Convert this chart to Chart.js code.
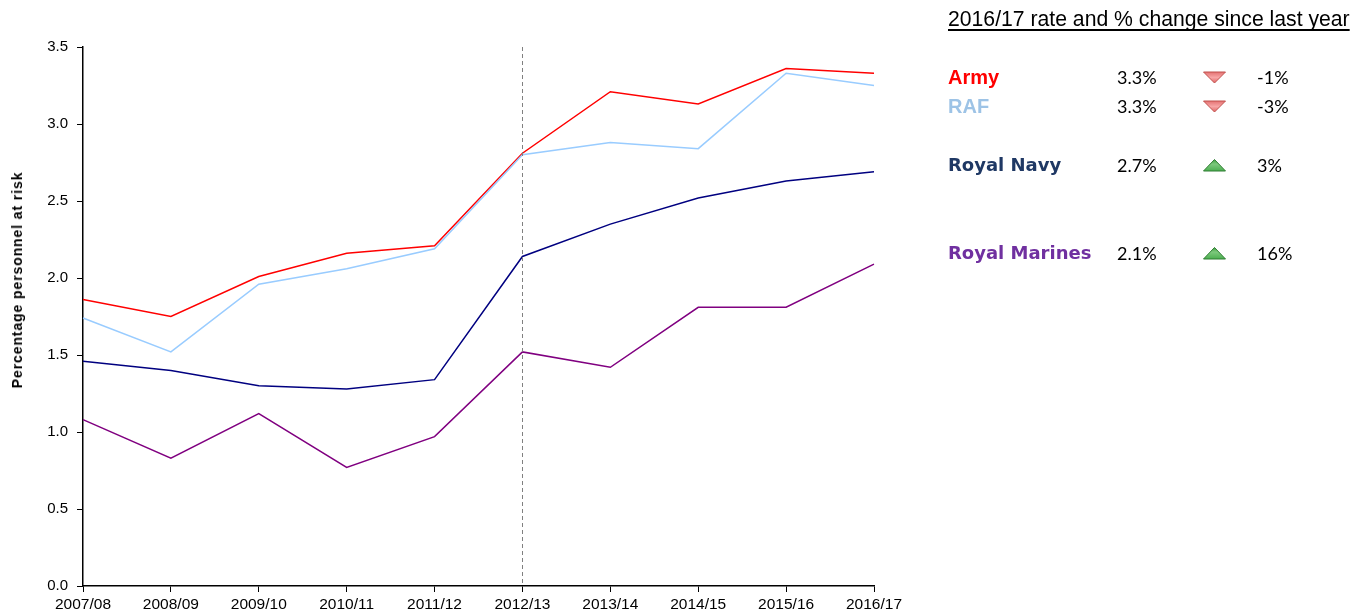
<!DOCTYPE html>
<html>
<head>
<meta charset="utf-8">
<script src="https://cdn.jsdelivr.net/npm/chart.js@4"></script>
<style>
  body { margin: 0; background: #fff; }
  #wrap { position: relative; width: 1368px; height: 616px; }
  #ytitle { position: absolute; left: 17px; top: 280px; transform: translate(-50%, -50%) rotate(-90deg);
            white-space: nowrap; font-family: "Liberation Sans", Arial, sans-serif; font-size: 14px;
            font-weight: bold; letter-spacing: 0.9px; color: #000; }
  #legend { position: absolute; left: 948px; top: 0; font-family: "Lato", "Liberation Sans", sans-serif; }
  #legend .title { position: absolute; left: 0; top: 7px; white-space: nowrap; font-family: "Liberation Sans", Arial, sans-serif; font-size: 21.2px; text-decoration: underline; text-decoration-skip-ink: none; text-underline-offset: 3px; color: #000; }
  #legend .row { position: absolute; left: 0; white-space: nowrap; font-size: 18px; color: #000; height: 24px; }
  #legend .name { position: absolute; left: 0; top: 0; line-height: 24px; font-weight: bold; }
  #legend .rate { position: absolute; left: 169px; top: 0; line-height: 24px; }
  #legend .tri { position: absolute; left: 255px; top: 6px; }
  #legend .tri svg { display: block; }
  #legend .chg { position: absolute; left: 309px; top: 0; line-height: 24px; }
</style>
</head>
<body>
<div id="wrap">
  <canvas id="chart" width="1368" height="616"></canvas>
  <div id="ytitle">Percentage personnel at risk</div>
  <div id="legend"></div>
</div>
<script>
// years on the x axis
const years = ["2007/08", "2008/09", "2009/10", "2010/11", "2011/12", "2012/13", "2013/14", "2014/15", "2015/16", "2016/17"];

// percentage personnel at risk
const army = [1.86, 1.75, 2.01, 2.16, 2.21, 2.81, 3.21, 3.13, 3.36, 3.33];
const raf = [1.74, 1.52, 1.96, 2.06, 2.19, 2.80, 2.88, 2.84, 3.33, 3.25];
const navy = [1.46, 1.40, 1.30, 1.28, 1.34, 2.14, 2.35, 2.52, 2.63, 2.69];
const marines = [1.08, 0.83, 1.12, 0.77, 0.97, 1.52, 1.42, 1.81, 1.81, 2.09];

const markerYear = "2012/13";

// side table
const services = ["Army", "RAF", "Royal Navy", "Royal Marines"];
const rates = ["3.3%", "3.3%", "2.7%", "2.1%"];
const changes = ["-1%", "-3%", "3%", "16%"];
const rowTops = [65, 94, 153, 241];
const textColours = ["#ff0000", "#9dc3e6", "#1f3864", "#7030a0"];
const nameFonts = ["bold 20px 'Liberation Sans'", "bold 20px 'Liberation Sans'", "bold 18px 'DejaVu Sans'", "bold 18px 'DejaVu Sans'"];

// dashed line at the marker year
const markerLine = {
  id: "markerLine",
  afterDatasetsDraw(chart) {
    const { ctx, scales: { x, y } } = chart;
    const px = Math.round(x.getPixelForValue(years.indexOf(markerYear))) + 0.5;
    ctx.save();
    ctx.strokeStyle = "#808080";
    ctx.lineWidth = 1;
    ctx.setLineDash([4, 3]);
    ctx.beginPath();
    ctx.moveTo(px, y.getPixelForValue(3.5));
    ctx.lineTo(px, y.getPixelForValue(0));
    ctx.stroke();
    ctx.restore();
  }
};

const lineSet = (label, data, colour) => ({
  label, data,
  borderColor: colour,
  borderWidth: 1.5,
  pointRadius: 0,
  tension: 0,
  fill: false
});

new Chart(document.getElementById("chart"), {
  type: "line",
  data: {
    labels: years,
    datasets: [
      lineSet("Royal Marines", marines, "#800080"),
      lineSet("Royal Navy", navy, "#000080"),
      lineSet("RAF", raf, "#99ccff"),
      lineSet("Army", army, "#ff0000")
    ]
  },
  options: {
    responsive: false,
    animation: false,
    layout: { padding: { left: 0, top: 47, right: 494, bottom: 0 } },
    plugins: { legend: { display: false }, tooltip: { enabled: false } },
    scales: {
      x: {
        offset: false,
        border: { color: "#000", width: 1.5 },
        grid: { display: true, drawOnChartArea: false, drawTicks: true, tickLength: 6, color: "#000" },
        ticks: { color: "#000", font: { family: "Liberation Sans", size: 15.5 }, padding: 3, maxRotation: 0, autoSkip: false },
        afterFit(axis) { axis.height = 30; }
      },
      y: {
        min: 0, max: 3.5,
        border: { color: "#000", width: 1.5 },
        grid: { display: true, drawOnChartArea: false, drawTicks: true, tickLength: 6, color: "#000" },
        ticks: { stepSize: 0.5, color: "#000", font: { family: "Liberation Sans", size: 15 }, padding: 9,
                 callback: v => v.toFixed(1) },
        afterFit(axis) { axis.width = 83; }
      }
    }
  },
  plugins: [markerLine]
});

// build side table
const legend = document.getElementById("legend");
const title = document.createElement("div");
title.className = "title";
title.textContent = "2016/17 rate and % change since last year";
legend.appendChild(title);

const upTri = `<svg width="23" height="13"><defs><linearGradient id="gu" x1="0" y1="0" x2="0" y2="1">
  <stop offset="0" stop-color="#3f9f3f"/><stop offset="0.4" stop-color="#7cc87c"/><stop offset="1" stop-color="#4caf50"/></linearGradient></defs>
  <polygon points="0.5,12 11.5,0.5 22.5,12" fill="url(#gu)" stroke="#2e7d32" stroke-width="1"/></svg>`;
const downTri = `<svg width="23" height="13"><defs><linearGradient id="gd" x1="0" y1="0" x2="0" y2="1">
  <stop offset="0" stop-color="#e57373"/><stop offset="0.5" stop-color="#f7a5a5"/><stop offset="1" stop-color="#e06666"/></linearGradient></defs>
  <polygon points="0.5,1 22.5,1 11.5,12" fill="url(#gd)" stroke="#c0504d" stroke-width="1"/></svg>`;

services.forEach((name, i) => {
  const row = document.createElement("div");
  row.className = "row";
  row.style.top = rowTops[i] + "px";
  const up = !changes[i].startsWith("-");
  row.innerHTML =
    `<span class="name" style="color:${textColours[i]};font:${nameFonts[i]};line-height:24px">${name}</span>` +
    `<span class="rate">${rates[i]}</span>` +
    `<span class="tri">${up ? upTri : downTri}</span>` +
    `<span class="chg">${changes[i]}</span>`;
  legend.appendChild(row);
});
</script>
</body>
</html>
